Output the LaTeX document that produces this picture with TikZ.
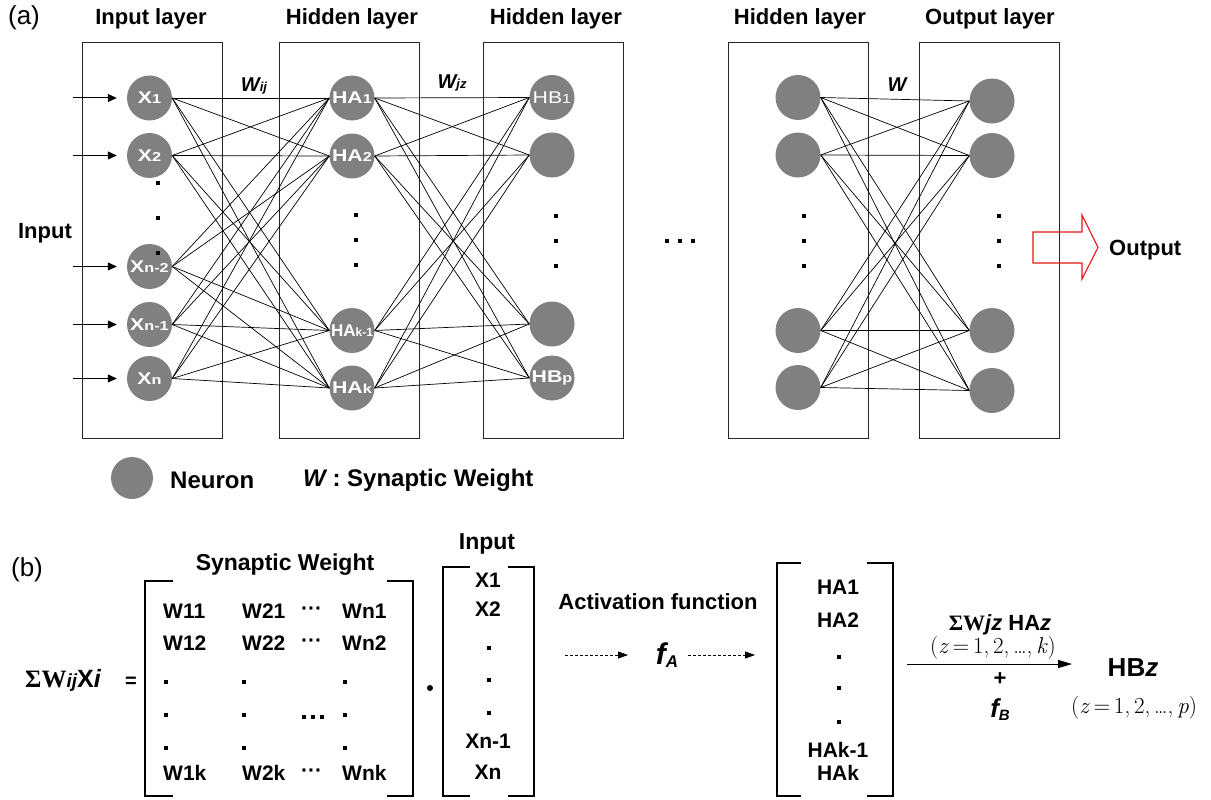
\documentclass[tikz,border=0pt]{standalone}
\usepackage{fontspec}
\setmainfont{Liberation Sans}
\newfontfamily\serifb{Liberation Serif}
\newfontfamily\lmr{Latin Modern Roman}
\usetikzlibrary{arrows.meta}
\definecolor{ngray}{RGB}{128,128,128}
\definecolor{arrred}{RGB}{230,20,20}
\newcommand\sbs[1]{{\fontsize{13}{13}\selectfont #1}}
\newcommand\fs[1]{\fontsize{#1}{#1}\selectfont}
\newcommand\nl[1]{\makebox[0pt]{\scalebox{1.25}[1]{#1}}}
\newcommand\sqd[2]{\fill (#1-1.6,#2-1.6) rectangle (#1+1.6,#2+1.6);}
\begin{document}
\begin{tikzpicture}[x=1pt,y=-1pt,
  neuron/.style={circle,fill=ngray,minimum size=45pt,inner sep=0pt,text=white,font=\bfseries\fs{17}},
  layerbox/.style={draw=black!85,line width=1pt},
  conn/.style={line width=0.7pt},
  ltitle/.style={font=\bfseries\fs{22}},
  lbl/.style={font=\bfseries\fs{22},inner sep=0pt},
  inarrow/.style={line width=1pt,-{Triangle[length=9pt,width=8pt]}},
  brk/.style={line width=2.4pt,line join=miter,line cap=rect},
  ment/.style={font=\bfseries\fs{21},inner sep=0pt,anchor=west},
  vent/.style={font=\bfseries\fs{21},inner sep=0pt},
  mathl/.style={font=\lmr\fs{23},inner sep=0pt}
]
\useasboundingbox (0,0) rectangle (1211,800);

% ---------- (a) ----------
\node[font=\fs{26}] (la) at (24,18) {(a)};
\node[ltitle] (t1) at (151,19) {Input layer};
\node[ltitle] (t2) at (352,19) {Hidden layer};
\node[ltitle] (t3) at (556,19) {Hidden layer};
\node[ltitle] (t4) at (800,19) {Hidden layer};
\node[ltitle] (t5) at (990,19) {Output layer};

\draw[layerbox] (82,43) rectangle (222,438);
\draw[layerbox] (279,43) rectangle (419,438);
\draw[layerbox] (483,43) rectangle (623,438);
\draw[layerbox] (728,43) rectangle (868,438);
\draw[layerbox] (919,43) rectangle (1059,438);

% neurons
\node[neuron] (x1) at (149.5,98) {\nl{X\sbs{1}}};
\node[neuron] (x2) at (149.5,155.5) {\nl{X\sbs{2}}};
\node[neuron] (x3) at (149.5,266.5) {\nl{X\sbs{n-2}}};
\node[neuron] (x4) at (149.5,324.5) {\nl{X\sbs{n-1}}};
\node[neuron] (x5) at (149.5,378.5) {\nl{X\sbs{n}}};

\node[neuron] (ha1) at (352,98) {\nl{HA\sbs{1}}};
\node[neuron] (ha2) at (352,156) {\nl{HA\sbs{2}}};
\node[neuron] (ha3) at (352,330.5) {\makebox[0pt]{HA{\fs{12}k-1}}};
\node[neuron] (ha4) at (352,388) {\nl{HA\sbs{k}}};

\node[neuron,font=\fs{17}] (hb1) at (552,97.5) {\nl{HB\sbs{1}}};
\node[neuron] (hb2) at (552,155) {};
\node[neuron] (hb3) at (552,324) {};
\node[neuron] (hb4) at (552,378) {\nl{HB\sbs{p}}};

\node[neuron] (r1) at (798,97.5) {};
\node[neuron] (r2) at (798,155) {};
\node[neuron] (r3) at (798,330.5) {};
\node[neuron] (r4) at (798,387.5) {};

\node[neuron] (o1) at (992,101) {};
\node[neuron] (o2) at (992,155.5) {};
\node[neuron] (o3) at (992,330.5) {};
\node[neuron] (o4) at (992,390.5) {};

% connections
\foreach \a in {x1,x2,x3,x4,x5}
  \foreach \b in {ha1,ha2,ha3,ha4}
    \draw[conn] (\a.east) -- (\b.west);
\foreach \a in {ha1,ha2,ha3,ha4}
  \foreach \b in {hb1,hb2,hb3,hb4}
    \draw[conn] (\a.east) -- (\b.west);
\foreach \a in {r1,r2,r3,r4}
  \foreach \b in {o1,o2,o3,o4}
    \draw[conn] (\a.east) -- (\b.west);

% input arrows
\coordinate (i1) at (73,98);
\coordinate (i2) at (73,155.5);
\coordinate (i3) at (73,266.5);
\coordinate (i4) at (73,324.5);
\coordinate (i5) at (73,378.5);
\foreach \k in {1,...,5}
  \draw[inarrow,shorten >=10pt] (i\k) -- (x\k.west);

% vertical dots
\sqd{158}{183}\sqd{158}{218}\sqd{158}{253}
\sqd{356}{215}\sqd{356}{240}\sqd{356}{265}
\sqd{556}{216}\sqd{556}{241}\sqd{556}{266}
\sqd{804}{216}\sqd{804}{241}\sqd{804}{266}
\sqd{999}{216}\sqd{999}{241}\sqd{999}{266}
% horizontal dots between layers
\sqd{667}{241}\sqd{680}{241}\sqd{693}{241}

% weight labels
\node[font=\bfseries\itshape\fs{20}] (wij) at (254,86) {W{\fs{13}ij}};
\node[font=\bfseries\itshape\fs{20}] (wjz) at (452,83) {W{\fs{13}jz}};
\node[font=\bfseries\itshape\fs{20}] (ww) at (897,85) {W};

\node[lbl] (inp) at (45,233) {Input};

% output arrow
\draw[arrred,line width=1.1pt,line join=miter] (1033,232) -- (1082,232) -- (1082,215) -- (1098,247.5) -- (1082,279) -- (1082,263) -- (1033,263) -- cycle;
\node[lbl,anchor=west] (outl) at (1109,250) {Output};

% legend
\node[neuron,minimum size=42pt] (leg) at (132,478) {};
\node[font=\bfseries\fs{24},anchor=west,inner sep=0pt] (legn) at (170,480) {Neuron};
\node[font=\bfseries\fs{24},anchor=west,inner sep=0pt] (legw) at (303,480) {{\itshape W} : Synaptic Weight};

% ---------- (b) ----------
\node[font=\fs{26}] (lb) at (27,570) {(b)};

\node[font=\fs{25},anchor=west,inner sep=0pt] (sumx) at (25,680) {{\serifb\bfseries ΣW}{\bfseries\itshape\fs{19}ij}{\bfseries X\itshape i}};
\node[font=\bfseries\fs{20},inner sep=0pt] (eq) at (131,682) {=};

% weight matrix
\draw[brk] (172,581) -- (145,581) -- (145,796) -- (172,796);
\draw[brk] (388,581) -- (413,581) -- (413,796) -- (388,796);
\node[font=\bfseries\fs{23}] (swt) at (285,565) {Synaptic Weight};

\node[ment] (m11) at (163,611) {W11};
\node[ment] (m21) at (242,611) {W21};
\node[ment] (m31) at (301,611) {···};
\node[ment] (m41) at (342,611) {Wn1};
\node[ment] (m12) at (163,643) {W12};
\node[ment] (m22) at (242,643) {W22};
\node[ment] (m32) at (301,643) {···};
\node[ment] (m42) at (342,643) {Wn2};
\node[ment] (m1k) at (163,773) {W1k};
\node[ment] (m2k) at (242,773) {W2k};
\node[ment] (m3k) at (301,773) {···};
\node[ment] (m4k) at (342,773) {Wnk};
\foreach \yy in {682,715,748}{
  \sqd{166}{\yy}\sqd{244}{\yy}\sqd{345}{\yy}
}
\fill (304-2,717-2) rectangle (304+2,717+2);
\fill (313-2,717-2) rectangle (313+2,717+2);
\fill (322-2,717-2) rectangle (322+2,717+2);

\fill (430,688) circle (3);

% input vector
\draw[brk] (469,567) -- (443,567) -- (443,796) -- (469,796);
\draw[brk] (509,567) -- (534,567) -- (534,796) -- (509,796);
\node[font=\bfseries\fs{23}] (vin) at (487,544) {Input};
\node[vent] (v1) at (488,580) {X1};
\node[vent] (v2) at (488,609) {X2};
\sqd{489}{648}\sqd{489}{680}\sqd{489}{713}
\node[vent] (v3) at (488,741) {Xn-1};
\node[vent] (v4) at (488,772) {Xn};

% activation
\node[lbl] (act) at (658,602) {Activation function};
\node[inner sep=0pt] (fa) at (667,655) {{\bfseries\itshape\fs{30}f}\raisebox{-3pt}{\bfseries\itshape\fs{17}A}};
\coordinate (d1s) at (565,655);
\coordinate (d1e) at (628,655);
\coordinate (d2s) at (688,655);
\coordinate (d2e) at (755,655);
\draw[line width=0.8pt,dash pattern=on 3pt off 2pt,-{Triangle[length=10pt,width=7pt]}] (d1s) -- (d1e);
\draw[line width=0.8pt,dash pattern=on 3pt off 2pt,-{Triangle[length=10pt,width=7pt]}] (d2s) -- (d2e);

% HA vector
\draw[brk] (800,563) -- (777,563) -- (777,796) -- (800,796);
\draw[brk] (868,563) -- (893,563) -- (893,796) -- (868,796);
\node[vent] (h1) at (838,587) {HA1};
\node[vent] (h2) at (838,620) {HA2};
\sqd{839}{657}\sqd{839}{688}\sqd{839}{722}
\node[vent] (h3) at (838,750) {HAk-1};
\node[vent] (h4) at (838,773) {HAk};

% to HBz
\coordinate (a3s) at (907,664);
\coordinate (a3e) at (1072,664);
\draw[line width=1pt,-{Triangle[length=14pt,width=8pt]}] (a3s) -- (a3e);
\node[font=\fs{22},inner sep=0pt] (swjz) at (1000,625) {{\serifb\bfseries ΣW}{\bfseries\itshape jz} {\bfseries HA\itshape z}};
\node[mathl] (zk) at (993,648) {(\textit{z}\,=\,1,\,2,\,…,\,\textit{k})};
\node[lbl] (plus) at (1000,679) {+};
\node[inner sep=0pt] (fb) at (1000,710) {{\bfseries\itshape\fs{26}f}\raisebox{-3pt}{\bfseries\itshape\fs{15}B}};
\node[font=\bfseries\fs{26},inner sep=0pt] (hbz) at (1133,668) {HB{\itshape z}};
\node[mathl] (zp) at (1134,708) {(\textit{z}\,=\,1,\,2,\,…,\,\textit{p})};
\end{tikzpicture}
\end{document}
